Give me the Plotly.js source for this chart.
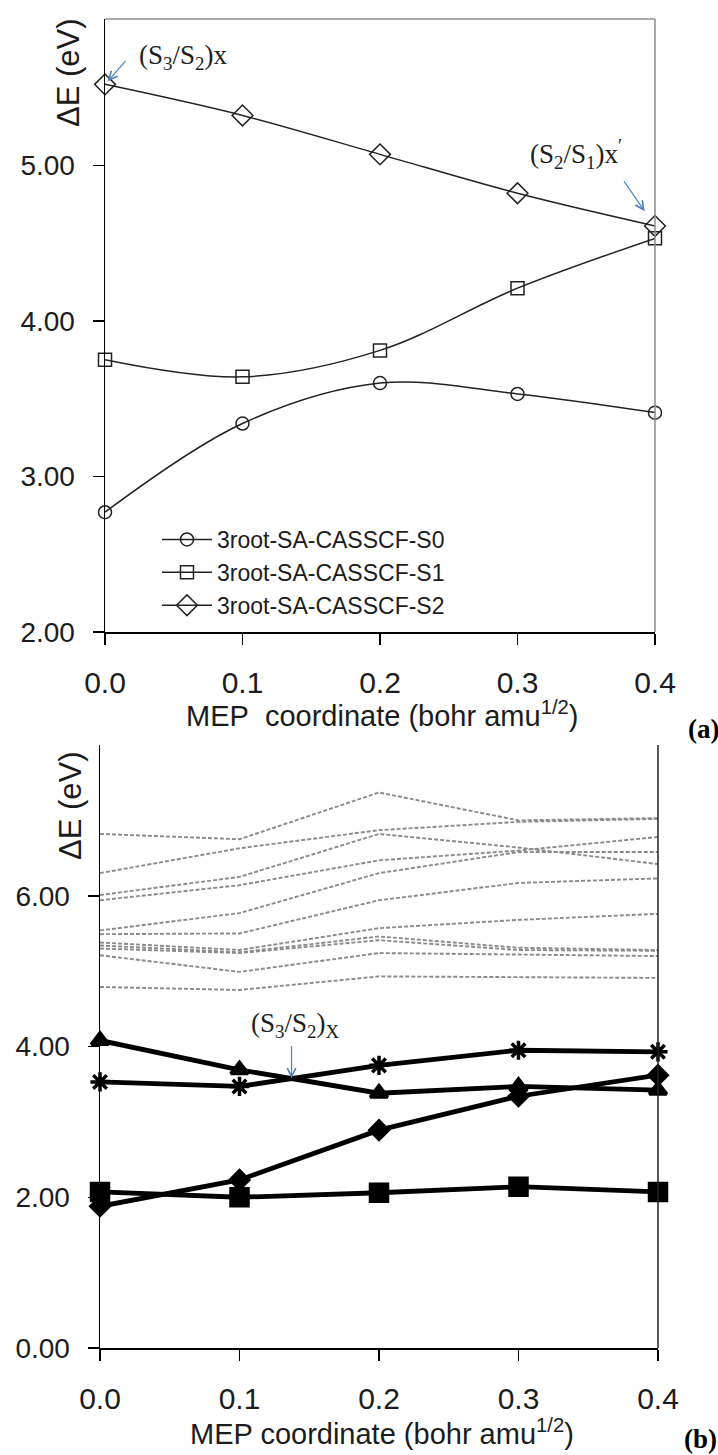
<!DOCTYPE html>
<html><head><meta charset="utf-8">
<script src="https://cdn.plot.ly/plotly-3.0.1.min.js"></script>
<style>body{margin:0;background:#fff}#chart{width:718px;height:1455px}</style>
</head><body><div id="chart"></div>
<script>
// ---- shared x values / labels
const mep = [0.0, 0.1, 0.2, 0.3, 0.4];
const xTickText = ['0.0', '0.1', '0.2', '0.3', '0.4'];

// ---- panel (a)
const aNames = ['3root-SA-CASSCF-S0', '3root-SA-CASSCF-S1', '3root-SA-CASSCF-S2'];
const aS0 = [2.77, 3.34, 3.60, 3.53, 3.41];
const aS1 = [3.75, 3.64, 3.81, 4.21, 4.53];
const aS2 = [5.52, 5.32, 5.07, 4.82, 4.61];
const aYTicks = [2, 3, 4, 5];
const aYTickText = ['2.00', '3.00', '4.00', '5.00'];

// ---- panel (b): bold states
const bTriangle = [4.08, 3.69, 3.38, 3.47, 3.42];
const bStar     = [3.53, 3.47, 3.75, 3.95, 3.93];
const bDiamond  = [1.88, 2.23, 2.89, 3.34, 3.62];
const bSquare   = [2.07, 2.00, 2.06, 2.14, 2.07];
// ---- panel (b): higher states (grey dashed)
const bHigh1  = [6.82, 6.75, 7.37, 7.00, 7.03];
const bHigh2  = [6.30, 6.63, 6.87, 6.98, 7.02];
const bHigh3  = [6.01, 6.25, 6.82, 6.64, 6.42];
const bHigh4  = [5.94, 6.14, 6.47, 6.60, 6.78];
const bHigh5  = [5.54, 5.77, 6.30, 6.58, 6.58];
const bHigh6  = [5.49, 5.50, 5.94, 6.17, 6.23];
const bHigh7  = [5.38, 5.28, 5.57, 5.68, 5.76];
const bHigh8  = [5.34, 5.25, 5.46, 5.31, 5.28];
const bHigh9  = [5.30, 5.24, 5.41, 5.28, 5.27];
const bHigh10 = [5.21, 4.99, 5.24, 5.22, 5.20];
const bHigh11 = [4.79, 4.75, 4.93, 4.92, 4.91];
const bYTicks = [0, 2, 4, 6];
const bYTickText = ['0.00', '2.00', '4.00', '6.00'];

const W = 718, H = 1455;
const px = v => v / W;          // horizontal pixel -> paper
const py = v => 1 - v / H;      // vertical pixel (from top) -> paper

const FONT = 'Arial, "Liberation Sans", sans-serif';
const SERIF = '"Times New Roman", "Liberation Serif", serif';
const TXT = '#1c1c1c';
const ARROW = '#4F81BD';

const traces = [];
// panel (a)
const aSymbols = ['circle-open', 'square-open', 'diamond-open'];
const aSizes = [13, 13, 16];
[aS0, aS1, aS2].forEach((ys, i) => {
  traces.push({
    x: mep, y: ys, xaxis: 'x', yaxis: 'y', name: aNames[i],
    type: 'scatter', mode: 'lines+markers', cliponaxis: false,
    line: {color: '#222', width: 1.5, shape: 'spline', smoothing: 1},
    marker: {symbol: aSymbols[i], size: aSizes[i], color: '#222', line: {width: 1.5, color: '#222'}}
  });
});
// panel (b) grey dashed
[bHigh1, bHigh2, bHigh3, bHigh4, bHigh5, bHigh6, bHigh7, bHigh8, bHigh9, bHigh10, bHigh11].forEach(ys => {
  traces.push({
    x: mep, y: ys, xaxis: 'x2', yaxis: 'y2', showlegend: false,
    type: 'scatter', mode: 'lines', cliponaxis: false,
    line: {color: '#8a8a8a', width: 1.9, dash: '4px,2px'}
  });
});
// panel (b) bold
const bSets = [
  [bTriangle, 'triangle-up', 15],
  [bStar, 'asterisk-open', 16],
  [bDiamond, 'diamond', 14],
  [bSquare, 'square', 17]
];
bSets.forEach(([ys, sym, sz]) => {
  traces.push({
    x: mep, y: ys, xaxis: 'x2', yaxis: 'y2', showlegend: false,
    type: 'scatter', mode: 'lines+markers', cliponaxis: false,
    line: {color: '#000', width: 4.8},
    marker: {symbol: sym, size: sz, color: '#000', line: {width: 3.5, color: '#000'}}
  });
});

// crossing of triangle & star curves between 0.1 and 0.2 (from the data)
const d0 = bTriangle[1] - bStar[1], d1 = bTriangle[2] - bStar[2];
const tC = d0 / (d0 - d1);
const xC = mep[1] + tC * (mep[2] - mep[1]);
const yC = bTriangle[1] + tC * (bTriangle[2] - bTriangle[1]);

const axisCommon = {
  showgrid: false, zeroline: false, showline: true, linecolor: '#000', linewidth: 1.5,
  ticks: 'outside', ticklen: 11, tickwidth: 1.5, tickcolor: '#000'
};

const layout = {
  width: W, height: H, autosize: false,
  margin: {l: 0, r: 0, t: 0, b: 0},
  paper_bgcolor: '#fff', plot_bgcolor: '#fff',
  font: {family: FONT, color: TXT},
  showlegend: true,
  legend: {
    x: px(157), y: py(518), xanchor: 'left', yanchor: 'top',
    bgcolor: 'rgba(0,0,0,0)', font: {family: FONT, size: 23, color: TXT},
    itemwidth: 50, tracegroupgap: 0
  },
  xaxis: Object.assign({}, axisCommon, {
    domain: [px(105), px(655)], range: [0, 0.4], anchor: 'y',
    tickvals: mep, ticktext: xTickText, tickfont: {size: 30, family: FONT, color: TXT},
    ticklabelstandoff: 12
  }),
  yaxis: Object.assign({}, axisCommon, {
    domain: [py(632), py(19)], range: [2, 5.94], anchor: 'x',
    tickvals: aYTicks, ticktext: aYTickText, tickfont: {size: 28, family: FONT, color: TXT},
    ticklabelstandoff: 12
  }),
  xaxis2: Object.assign({}, axisCommon, {
    domain: [px(100), px(658)], range: [0, 0.4], anchor: 'y2',
    tickvals: mep, ticktext: xTickText, tickfont: {size: 30, family: FONT, color: TXT},
    ticklabelstandoff: 12
  }),
  yaxis2: Object.assign({}, axisCommon, {
    domain: [py(1348), py(745)], range: [0, 8], anchor: 'x2',
    tickvals: bYTicks, ticktext: bYTickText, tickfont: {size: 28, family: FONT, color: TXT},
    ticklabelstandoff: 12
  }),
  shapes: [
    // panel (a) grey top & right frame
    {type: 'line', xref: 'x domain', yref: 'y domain', x0: 0, x1: 1, y0: 1, y1: 1, line: {color: '#8c8c8c', width: 1.5}},
    {type: 'line', xref: 'x domain', yref: 'y domain', x0: 1, x1: 1, y0: 0, y1: 1, line: {color: '#8c8c8c', width: 1.5}},
    // panel (b) right frame
    {type: 'line', xref: 'x2 domain', yref: 'y2 domain', x0: 1, x1: 1, y0: 0, y1: 1, line: {color: '#222', width: 1.5}}
  ],
  annotations: [
    // axis titles
    {xref: 'paper', yref: 'paper', x: px(68), y: py(73), text: '\u0394E (eV)', textangle: -90,
     showarrow: false, xanchor: 'center', yanchor: 'middle', font: {size: 31, family: FONT, color: TXT}},
    {xref: 'paper', yref: 'paper', x: px(70), y: py(806), text: '\u0394E (eV)', textangle: -90,
     showarrow: false, xanchor: 'center', yanchor: 'middle', font: {size: 31, family: FONT, color: TXT}},
    {xref: 'paper', yref: 'paper', x: px(382), y: py(714), text: 'MEP\u00a0 coordinate (bohr amu<sup>1/2</sup>)',
     showarrow: false, xanchor: 'center', yanchor: 'middle', font: {size: 29, family: FONT, color: TXT}},
    {xref: 'paper', yref: 'paper', x: px(382), y: py(1432), text: 'MEP coordinate (bohr amu<sup>1/2</sup>)',
     showarrow: false, xanchor: 'center', yanchor: 'middle', font: {size: 29, family: FONT, color: TXT}},
    // panel labels
    {xref: 'paper', yref: 'paper', x: px(686), y: py(729), text: '<b>(a)</b>', showarrow: false,
     xanchor: 'left', yanchor: 'middle', font: {size: 27, family: SERIF, color: '#000'}},
    {xref: 'paper', yref: 'paper', x: px(682), y: py(1439), text: '<b>(b)</b>', showarrow: false,
     xanchor: 'left', yanchor: 'middle', font: {size: 27, family: SERIF, color: '#000'}},
    // panel (a) conical intersection labels
    {xref: 'paper', yref: 'paper', x: px(137), y: py(57), text: '(S<sub>3</sub>/S<sub>2</sub>)x', showarrow: false,
     xanchor: 'left', yanchor: 'middle', font: {size: 27, family: SERIF, color: TXT}},
    {xref: 'x', yref: 'y', x: mep[0], y: aS2[0], text: '', showarrow: true, ax: 22, ay: -25, standoff: 4,
     arrowcolor: ARROW, arrowwidth: 1.2, arrowhead: 5, arrowsize: 1.4},
    {xref: 'paper', yref: 'paper', x: px(528), y: py(154), text: '(S<sub>2</sub>/S<sub>1</sub>)x<sup>\u2032</sup>', showarrow: false,
     xanchor: 'left', yanchor: 'middle', font: {size: 27, family: SERIF, color: TXT}},
    {xref: 'x', yref: 'y', x: mep[4], y: aS2[4], text: '', showarrow: true, ax: -32, ay: -46, standoff: 18,
     arrowcolor: ARROW, arrowwidth: 1.2, arrowhead: 5, arrowsize: 1.4},
    // panel (b) crossing
    {xref: 'paper', yref: 'paper', x: px(295), y: py(1025), text: '(S<sub>3</sub>/S<sub>2</sub>)<sub>X</sub>', showarrow: false,
     xanchor: 'center', yanchor: 'middle', font: {size: 27, family: SERIF, color: TXT}},
    {xref: 'x2', yref: 'y2', x: xC, y: yC, text: '', showarrow: true, ax: 0, ay: -34, standoff: 0,
     arrowcolor: ARROW, arrowwidth: 1.2, arrowhead: 5, arrowsize: 1.4}
  ]
};

Plotly.newPlot('chart', traces, layout, {staticPlot: true, displayModeBar: false});
</script>
</body></html>
